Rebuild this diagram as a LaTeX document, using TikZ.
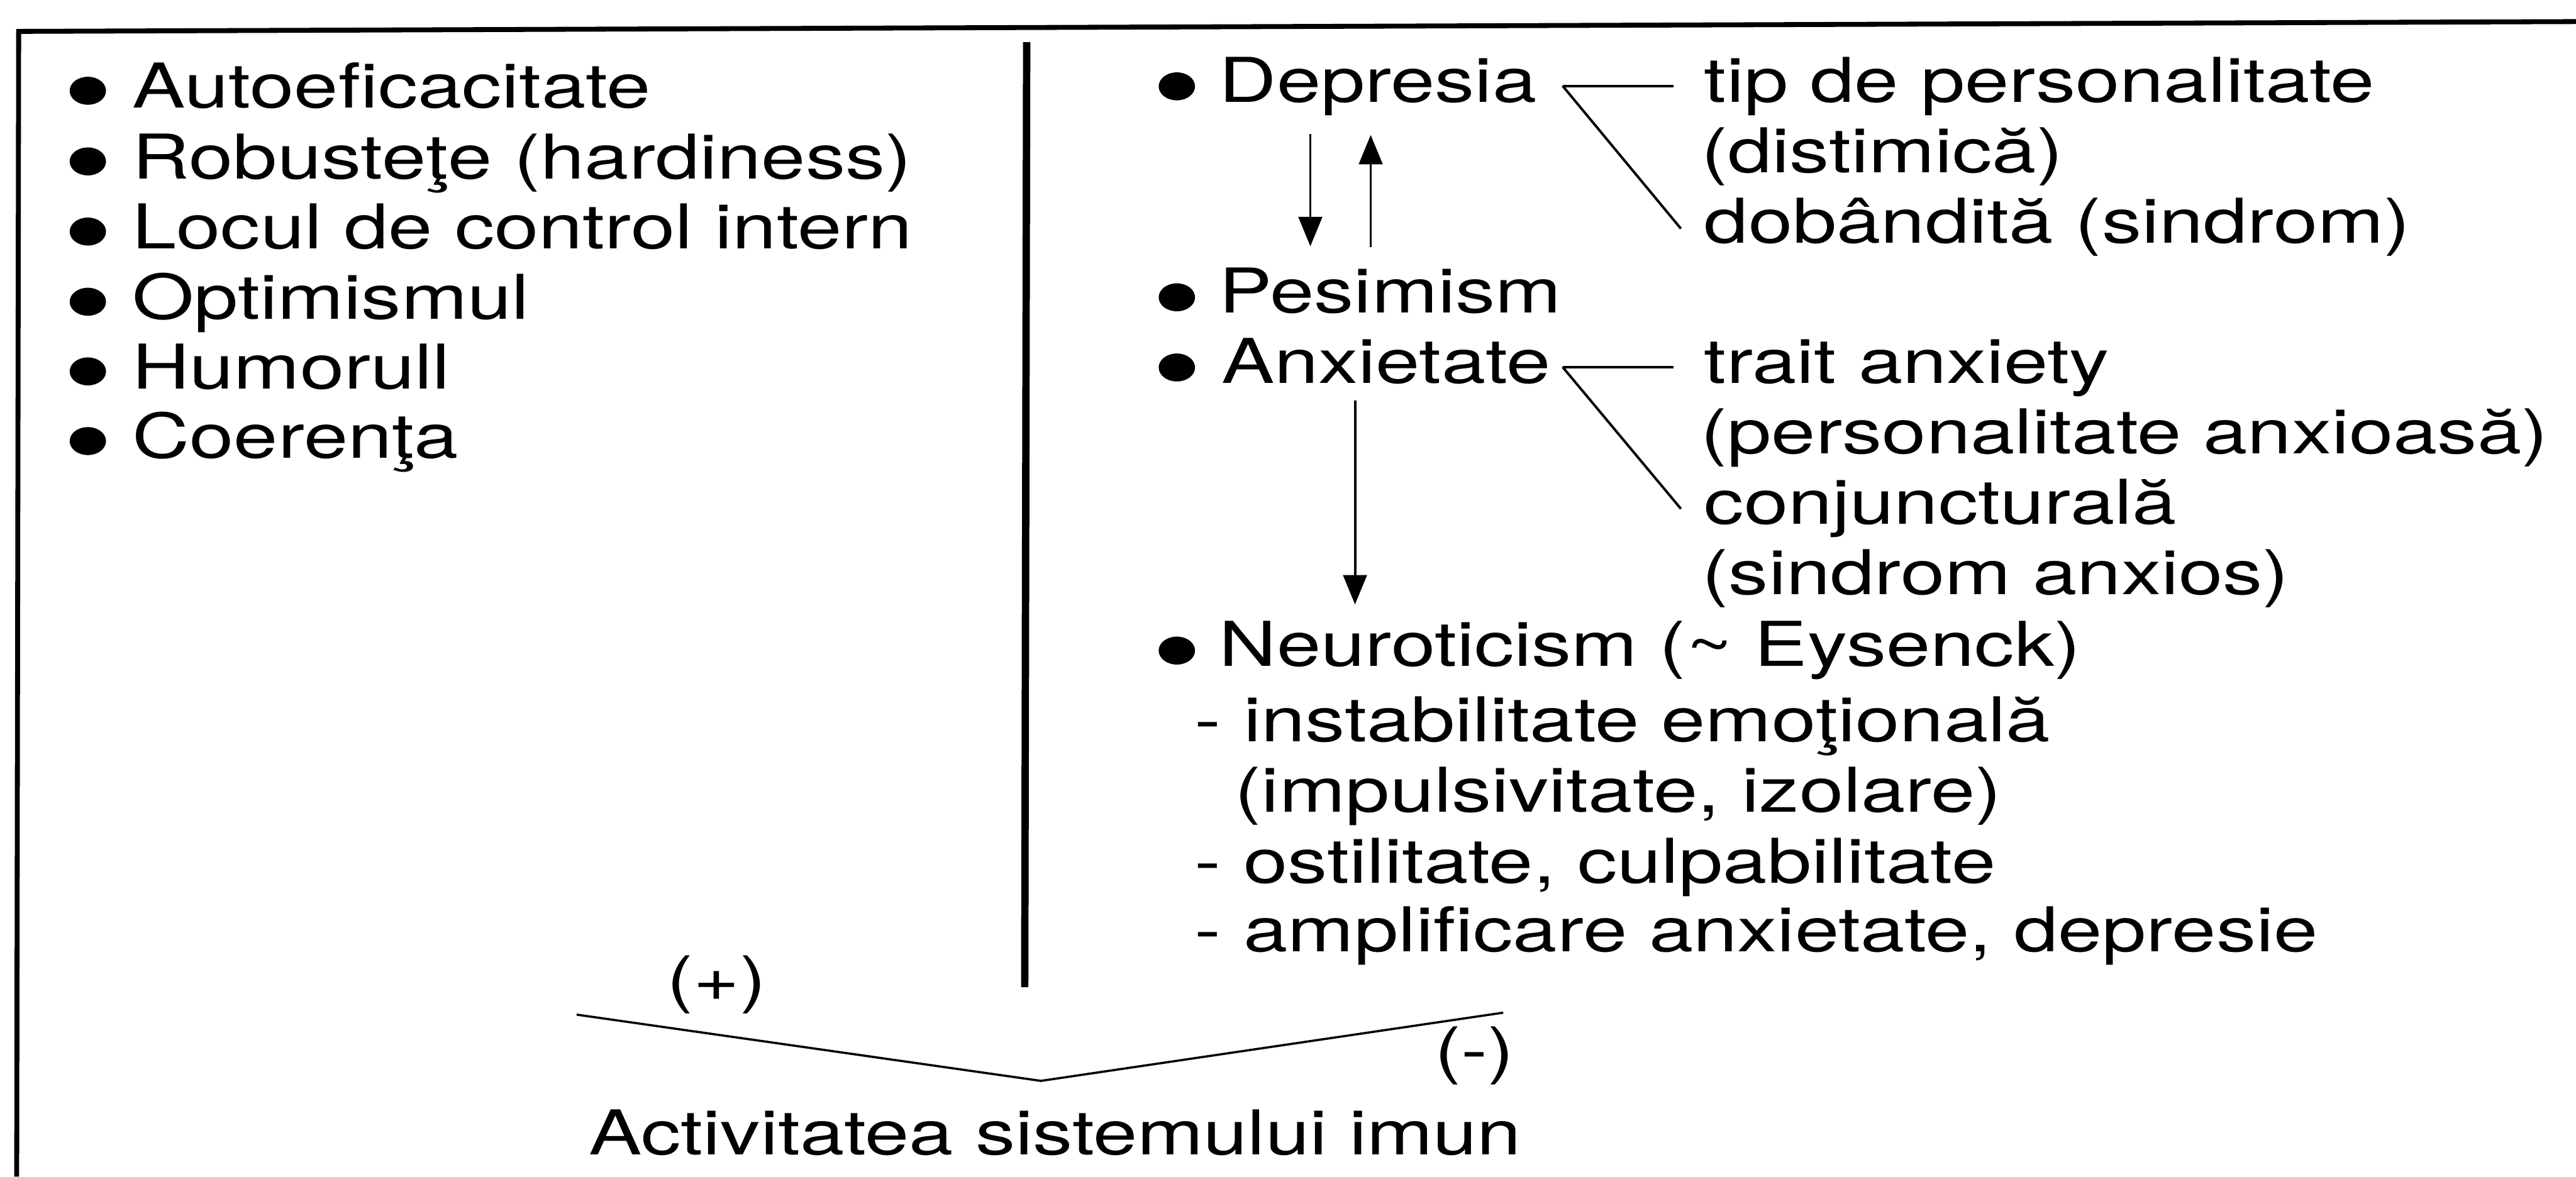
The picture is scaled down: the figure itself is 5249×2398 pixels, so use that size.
\documentclass[tikz,border=0pt]{standalone}
\usepackage{fontspec}
\setmainfont{TeX Gyre Heros}[FakeStretch=1.286]
\usetikzlibrary{calc,arrows.meta,shapes.geometric}

\begin{document}
\begin{tikzpicture}[x=0.01cm,y=-0.01cm,
  txt/.style={inner sep=0pt,anchor=base west,font=\fontsize{35.8}{43}\selectfont},
  ctr/.style={txt,anchor=base},
  bul/.style={ellipse,fill=black,draw=none,inner sep=0pt,minimum width=0.74cm,minimum height=0.57cm},
  thin/.style={line width=0.05cm},
  arr/.style={thin,-{Triangle[length=0.6cm,width=0.48cm]}},
  frame/.style={line width=0.1cm}]

\useasboundingbox (0,0) rectangle (5249,2398);

% outer frame (top and left edges) and column divider
\coordinate (ftl) at (38,64);
\coordinate (ftr) at (5249,44);
\coordinate (fbl) at (34,2398);
\draw[frame] (ftr) -- (ftl) -- (fbl);
\coordinate (dvt) at (2092,86);
\coordinate (dvb) at (2088,2012);
\draw[line width=0.15cm] (dvt) -- (dvb);

% left column
\node[txt] (l1) at (269,220) {Autoeficacitate};
\node[txt] (l2) at (269,364) {Robusteţe (hardiness)};
\node[txt] (l3) at (269,507) {Locul de control intern};
\node[txt] (l4) at (269,650) {Optimismul};
\node[txt] (l5) at (269,792) {Humorull};
\node[txt] (l6) at (269,934) {Coerenţa};
\foreach \n in {l1,l2,l3,l4,l5,l6}
  \node[bul] (b\n) at ($(\n.base west)+(-90,-35)$) {};

% right column
\node[txt] (dep) at (2484,208) {Depresia};
\node[txt] (tip) at (3472,208) {tip de personalitate};
\node[txt] (dis) at (3466,352) {(distimică)};
\node[txt] (dob) at (3472,495) {dobândită (sindrom)};
\node[txt] (pes) at (2484,638) {Pesimism};
\node[txt] (anx) at (2488,781) {Anxietate};
\node[txt] (trt) at (3472,781) {trait anxiety};
\node[txt] (pan) at (3465,925) {(personalitate anxioasă)};
\node[txt] (con) at (3472,1068) {conjuncturală};
\node[txt] (san) at (3468,1212) {(sindrom anxios)};
\node[txt] (neu) at (2484,1358) {Neuroticism (\textasciitilde{} Eysenck)};
\node[txt] (in1) at (2434,1512) {- instabilitate emoţională};
\node[txt] (in2) at (2516,1655) {(impulsivitate, izolare)};
\node[txt] (in3) at (2434,1800) {- ostilitate, culpabilitate};
\node[txt] (in4) at (2434,1940) {- amplificare anxietate, depresie};
\foreach \n in {dep,pes,neu}
  \node[bul] (b\n) at ($(\n.base west)+(-86,-32)$) {};
\node[bul] (banx) at ($(anx.base west)+(-90,-32)$) {};

% forks to the sub-types
\coordinate (dfk) at ($(dep.base west)+(700,-33)$);
\draw[thin] (dfk) -- ($(tip.base west)+(-62,-33)$);
\draw[thin] (dfk) -- ($(dob.base west)+(-47,-29)$);
\coordinate (afk) at ($(anx.base west)+(696,-33)$);
\draw[thin] (afk) -- ($(trt.base west)+(-62,-33)$);
\draw[thin] (afk) -- ($(con.base west)+(-47,-31)$);

% arrows between the traits
\draw[arr] ($(dep.base west)+(186,65)$) -- ($(pes.base west)+(186,-136)$);
\draw[arr] ($(pes.base west)+(309,-134)$) -- ($(dep.base west)+(309,67)$);
\draw[arr] ($(anx.base west)+(273,35)$) -- ($(neu.base west)+(277,-126)$);

% convergence onto the immune system
\node[ctr] (plus) at (1460,2039) {(+)};
\node[ctr] (minus) at (3005,2184) {(-)};
\node[ctr] (imun) at (2150,2354) {Activitatea sistemului imun};
\coordinate (vl) at (1175,2068);
\coordinate (vtx) at (2121,2203);
\coordinate (vr) at (3063,2064);
\draw[line width=0.045cm] (vl) -- (vtx) -- (vr);

\end{tikzpicture}
\end{document}
